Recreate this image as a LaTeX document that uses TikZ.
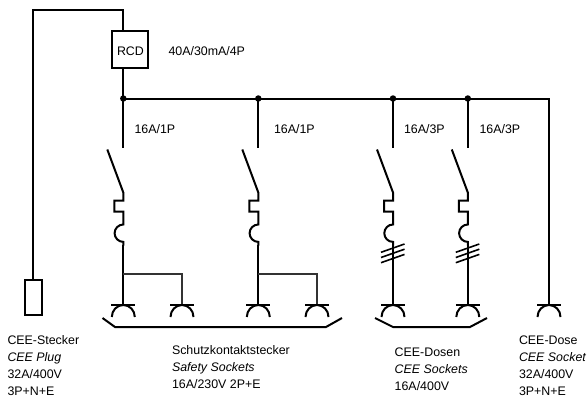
\documentclass[tikz,border=0pt]{standalone}
\usepackage{fontspec}
\setmainfont{Liberation Sans}
\tikzset{
  wire/.style={line width=2pt,line join=miter,black},
  thin wire/.style={line width=1.1pt,black!80},
  lbl/.style={anchor=base west,inner sep=0pt,outer sep=0pt,font=\fontsize{12.4}{12.4}\selectfont,text=black},
  dotn/.style={circle,fill=black,inner sep=0pt,minimum size=6.5pt},
  boxn/.style={draw,line width=2pt,inner sep=0pt},
  socket/.pic={
    \draw[wire,line width=1.6pt] (-12,0) -- (12,0);
    \draw[wire] (-11.5,12) arc[start angle=180,end angle=360,x radius=11.5,y radius=12];
  },
  fuse/.pic={
    \draw[wire] (-16,-56) -- (0,-13) -- (0,-5) -- (-9,-5) -- (-9,6) -- (0,6) -- (0,19)
      arc[start angle=-90,end angle=-270,radius=8.7] -- (0,40);
  }
}
\begin{document}
\begin{tikzpicture}[x=1pt,y=-1pt]
\useasboundingbox (0,0) rectangle (588,397);
% supply and RCD
\node[boxn,minimum width=36pt,minimum height=37pt] (rcd) at (130.3,49.3) {};
\node[lbl] (rcdt) at (117,55) {RCD};
\node[lbl] (rcdv) at (168.5,55) {40A/30mA/4P};
\node[boxn,minimum width=17pt,minimum height=35pt] (plug) at (33.3,297.5) {};
\coordinate (corner) at (123.3,9.5);
\coordinate (rcdin) at (123.3,31);
\coordinate (rcdout) at (123.3,68);
\draw[wire] (plug.north) -- (33.3,9.5) -- (corner) -- (rcdin);
% bus
\node[dotn] (d1) at (123.3,98.5) {};
\node[dotn] (d2) at (258.3,98.5) {};
\node[dotn] (d3) at (393,98.5) {};
\node[dotn] (d4) at (467.8,98.5) {};
\coordinate (busend) at (549,98.5);
\draw[wire] (rcdout) -- (d1.center) -- (d2.center) -- (d3.center) -- (d4.center) -- (busend) -- (549,305);
\path (549,305) pic {socket};
% branches
\foreach \n/\x in {d1/123.3,d2/258.3,d3/393,d4/467.8}{
  \coordinate (\n top) at (\x,148);
  \draw[wire] (\n.center) -- (\n top);
  \path (\x,205.5) pic {fuse};
  \draw[wire] (\x,245) -- (\x,305);
  \path (\x,305) pic {socket};
}
% three-phase ticks
\foreach \x in {393,467.8}{
  \foreach \d in {0,5.2,10.4}{
    \draw[wire,line width=1.6pt] (\x-12,252.3+\d) -- (\x+11.5,244+\d);
  }
}
% thin branches
\foreach \x/\y in {123.3/182,258.3/317}{
  \draw[thin wire] (\x,274) -- (\y,274) -- (\y,305);
  \path (\y,305) pic {socket};
}
% brackets
\coordinate (b1) at (102.5,318);
\coordinate (b2) at (115,327);
\coordinate (b3) at (326,327);
\coordinate (b4) at (342,318);
\draw[wire] (b1) -- (b2) -- (b3) -- (b4);
\coordinate (c1) at (375,318);
\coordinate (c2) at (393,327);
\coordinate (c3) at (470,327);
\coordinate (c4) at (487,318);
\draw[wire] (c1) -- (c2) -- (c3) -- (c4);
% labels
\node[lbl] (l1) at (134.5,133) {16A/1P};
\node[lbl] (l2) at (274,133) {16A/1P};
\node[lbl] (l3) at (404,133) {16A/3P};
\node[lbl] (l4) at (479.5,133) {16A/3P};
\node[lbl] (s1) at (7.5,344) {CEE-Stecker};
\node[lbl] (s2) at (7.5,361) {\itshape CEE Plug};
\node[lbl] (s3) at (7.5,378.5) {32A/400V};
\node[lbl] (s4) at (7.5,395) {3P+N+E};
\node[lbl] (k1) at (172,354) {Schutzkontaktstecker};
\node[lbl] (k2) at (172,371) {\itshape Safety Sockets};
\node[lbl] (k3) at (172,388) {16A/230V 2P+E};
\node[lbl] (c1t) at (394.7,356.5) {CEE-Dosen};
\node[lbl] (c2t) at (394.7,373.5) {\itshape CEE Sockets};
\node[lbl] (c3t) at (394.7,390) {16A/400V};
\node[lbl] (c4t) at (394.7,407) {3P+N+E};
\node[lbl] (o1) at (519,344) {CEE-Dose};
\node[lbl] (o2) at (519,361) {\itshape CEE Socket};
\node[lbl] (o3) at (519,378) {32A/400V};
\node[lbl] (o4) at (519,395) {3P+N+E};
\end{tikzpicture}
\end{document}
